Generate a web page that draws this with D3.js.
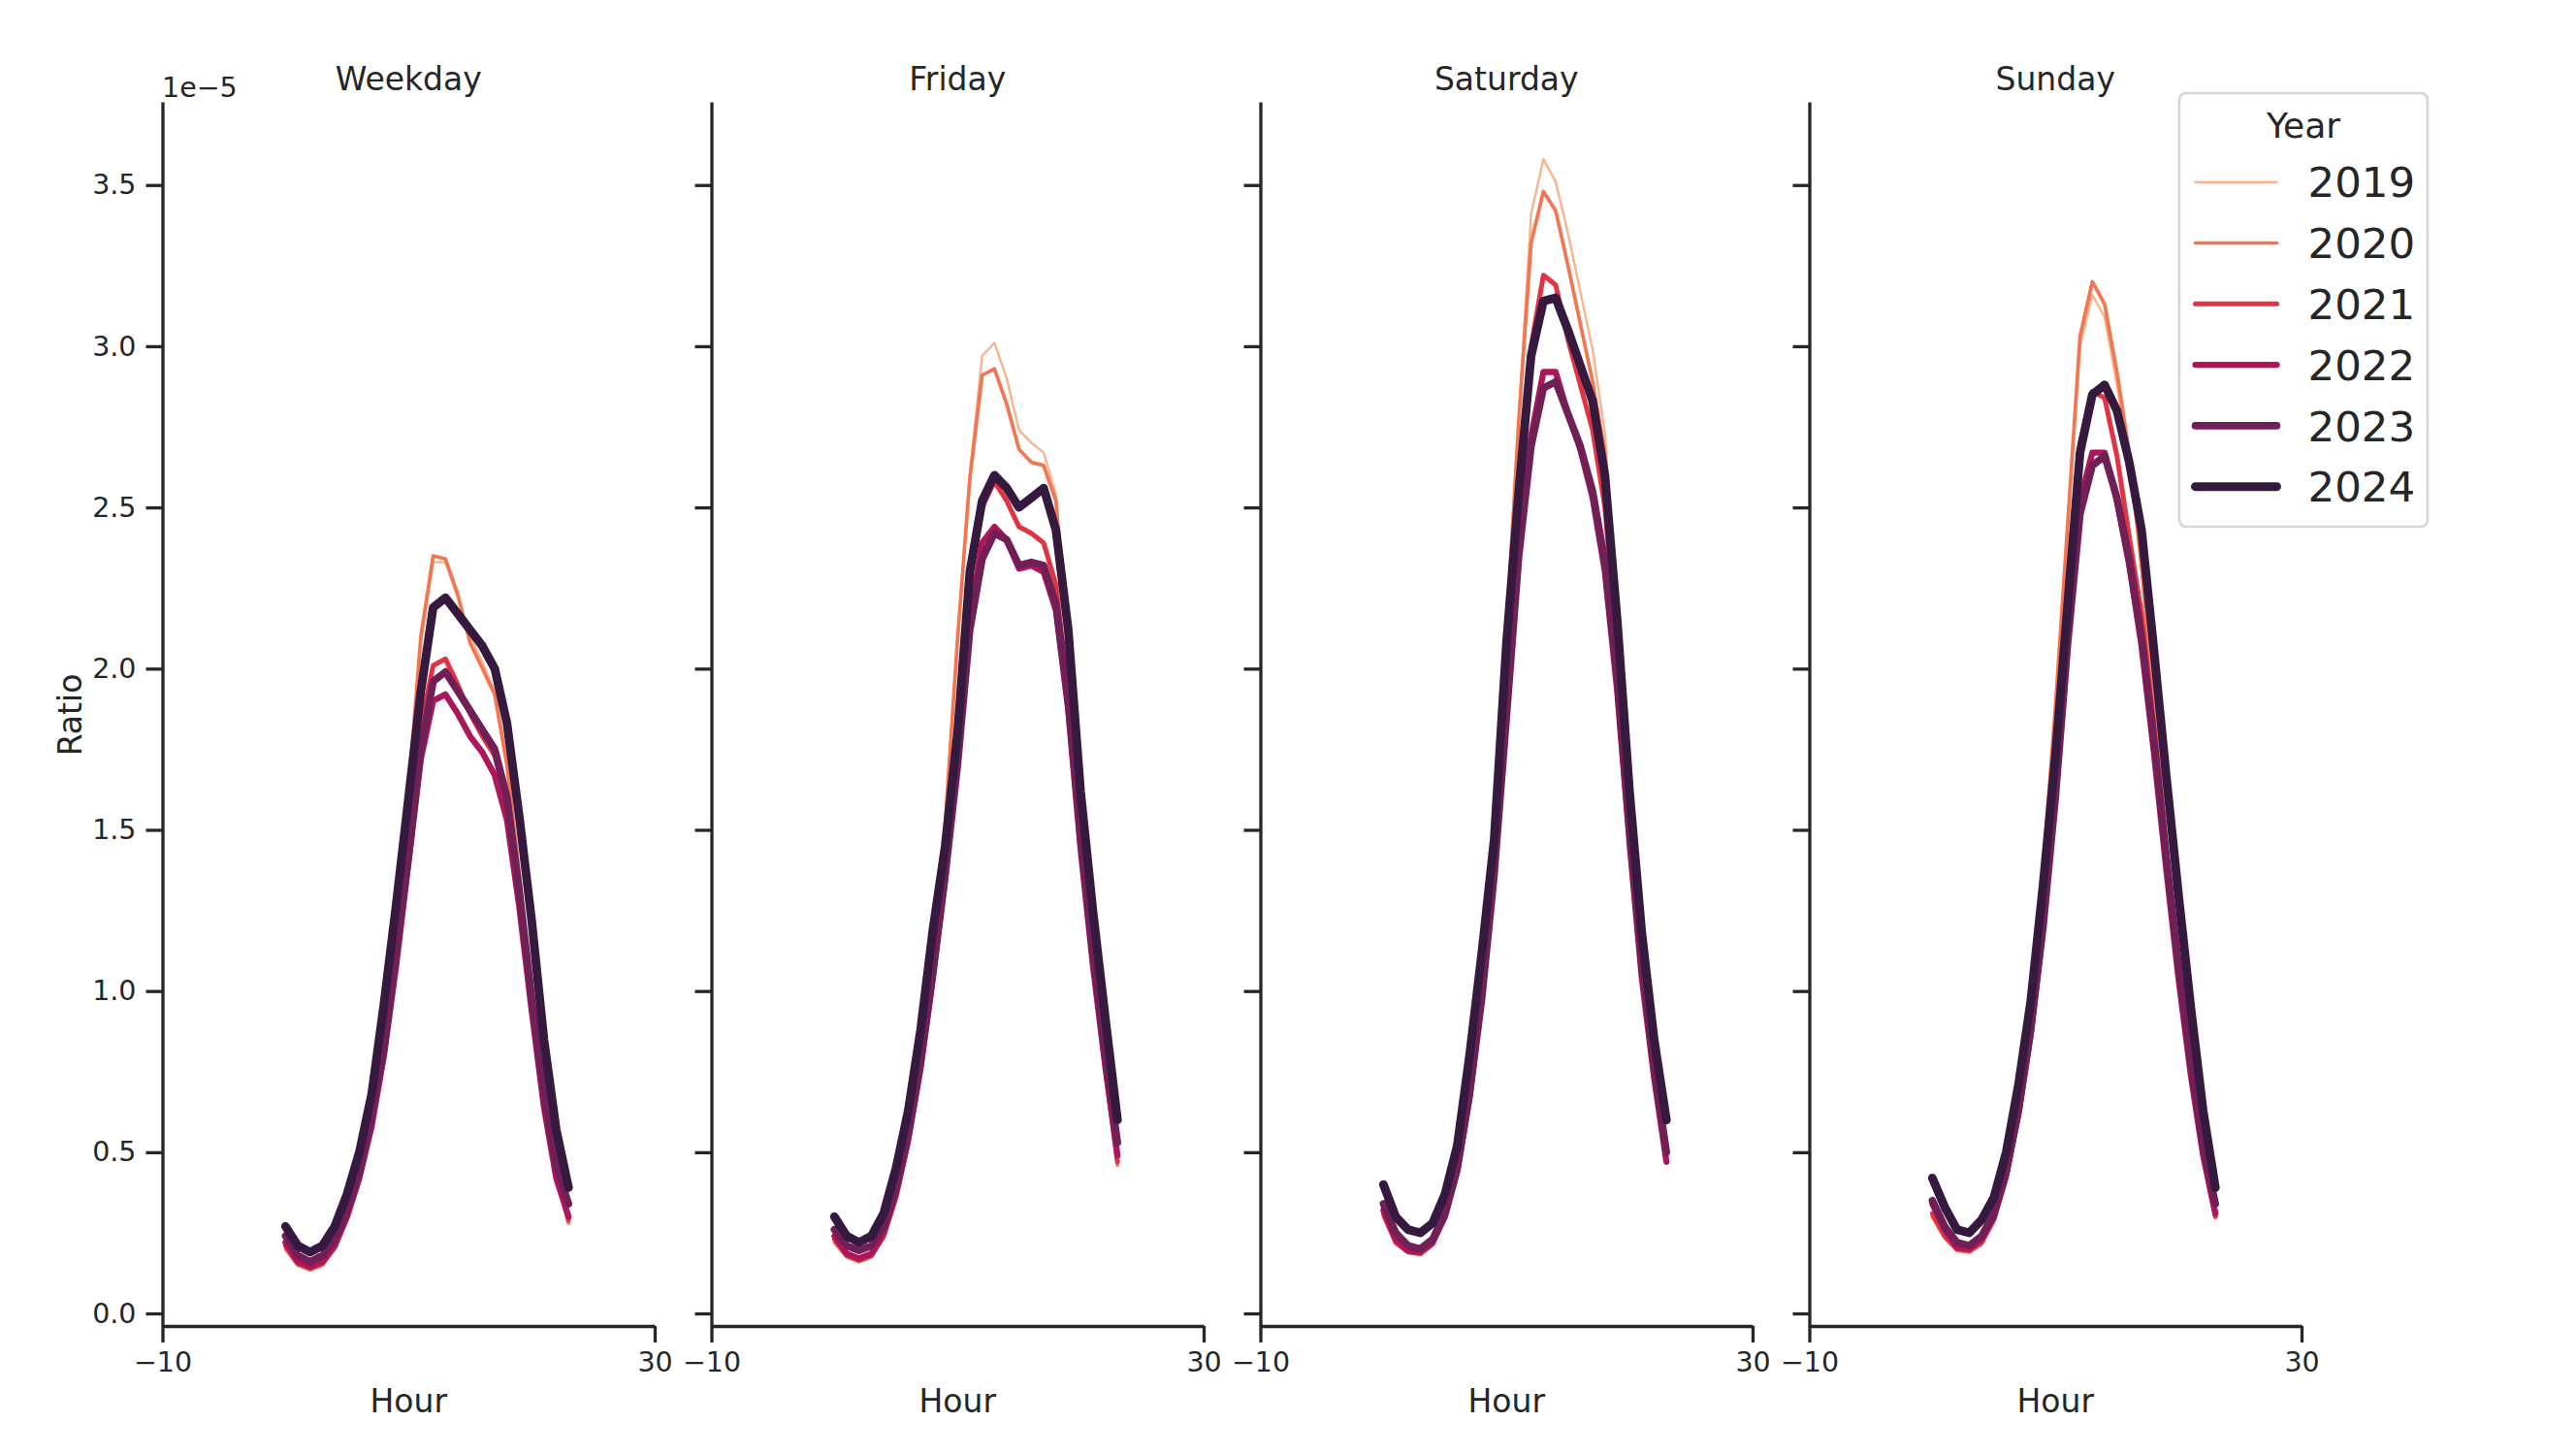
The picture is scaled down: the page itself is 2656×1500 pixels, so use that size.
<!DOCTYPE html>
<meta charset="utf-8">
<style>
body { margin: 0; background: #fff; }
text { font-family: "DejaVu Sans", sans-serif; fill: #262626; }
.axis path, .axis line { stroke: #262626; stroke-width: 3.3; }
.axis text { font-size: 28.5px; fill: #262626; font-family: "DejaVu Sans", sans-serif; }
.series { fill: none; stroke-linejoin: round; stroke-linecap: round; }
</style>
<body>
<script src="https://cdn.jsdelivr.net/npm/d3@7"></script>
<script>

var width = 2656,
    height = 1500;

// categories
var panels = ["Weekday", "Friday", "Saturday", "Sunday"];
var years = ["2019", "2020", "2021", "2022", "2023", "2024"];
var hours = d3.range(0, 24);

// tick labels
var xTicks = [-10, 30];
var yTicks = [0, 0.5, 1.0, 1.5, 2.0, 2.5, 3.0, 3.5];

// values are Ratio in units of 1e-5, one array per year, hours 0..23
var weekday = {
  "2019": [0.20,0.15,0.135,0.15,0.20,0.29,0.41,0.58,0.84,1.18,1.62,2.08,2.33,2.33,2.22,2.10,2.02,1.93,1.72,1.38,1.00,0.67,0.44,0.29],
  "2020": [0.20,0.15,0.135,0.15,0.20,0.29,0.41,0.58,0.84,1.18,1.62,2.10,2.35,2.34,2.23,2.08,2.00,1.92,1.70,1.36,0.98,0.66,0.43,0.28],
  "2021": [0.21,0.155,0.14,0.155,0.21,0.30,0.42,0.58,0.82,1.12,1.48,1.82,2.01,2.03,1.95,1.86,1.79,1.73,1.58,1.28,0.95,0.65,0.43,0.29],
  "2022": [0.22,0.16,0.145,0.16,0.21,0.30,0.42,0.58,0.80,1.08,1.40,1.72,1.90,1.92,1.86,1.79,1.74,1.67,1.53,1.26,0.94,0.64,0.42,0.30],
  "2023": [0.24,0.18,0.16,0.18,0.23,0.32,0.44,0.61,0.82,1.12,1.42,1.75,1.96,1.99,1.93,1.87,1.81,1.75,1.60,1.31,0.98,0.68,0.46,0.34],
  "2024": [0.27,0.21,0.19,0.21,0.27,0.37,0.50,0.68,0.96,1.27,1.60,1.93,2.19,2.22,2.17,2.12,2.07,2.00,1.83,1.54,1.22,0.85,0.57,0.39]
};

var friday = {
  "2019": [0.22,0.175,0.16,0.175,0.235,0.36,0.54,0.78,1.12,1.52,2.09,2.60,2.97,3.01,2.90,2.74,2.70,2.67,2.54,2.06,1.50,1.08,0.75,0.46],
  "2020": [0.22,0.175,0.16,0.175,0.235,0.36,0.54,0.78,1.12,1.52,2.09,2.59,2.91,2.93,2.82,2.68,2.64,2.63,2.52,2.05,1.50,1.08,0.75,0.46],
  "2021": [0.23,0.18,0.165,0.18,0.24,0.36,0.53,0.76,1.06,1.40,1.80,2.28,2.50,2.58,2.52,2.44,2.42,2.39,2.26,1.92,1.46,1.08,0.76,0.47],
  "2022": [0.24,0.185,0.17,0.185,0.25,0.37,0.54,0.76,1.04,1.35,1.72,2.16,2.39,2.44,2.40,2.31,2.32,2.30,2.18,1.87,1.44,1.08,0.77,0.49],
  "2023": [0.26,0.21,0.195,0.21,0.27,0.39,0.56,0.78,1.06,1.36,1.70,2.12,2.34,2.42,2.40,2.32,2.33,2.32,2.20,1.90,1.48,1.12,0.80,0.53],
  "2024": [0.30,0.24,0.22,0.24,0.31,0.45,0.63,0.88,1.19,1.45,1.80,2.30,2.52,2.60,2.56,2.50,2.53,2.56,2.43,2.12,1.62,1.25,0.92,0.60]
};

var saturday = {
  "2019": [0.30,0.22,0.19,0.185,0.215,0.30,0.46,0.72,1.08,1.52,2.12,2.78,3.41,3.58,3.51,3.35,3.17,2.99,2.73,2.18,1.56,1.08,0.74,0.47],
  "2020": [0.30,0.22,0.19,0.185,0.215,0.30,0.46,0.72,1.08,1.52,2.12,2.77,3.32,3.48,3.42,3.25,3.07,2.89,2.67,2.15,1.55,1.07,0.74,0.47],
  "2021": [0.31,0.22,0.19,0.185,0.215,0.30,0.45,0.70,1.04,1.47,2.05,2.60,3.00,3.22,3.19,3.02,2.88,2.74,2.50,2.05,1.52,1.06,0.74,0.47],
  "2022": [0.32,0.23,0.195,0.19,0.22,0.30,0.44,0.67,0.98,1.37,1.88,2.40,2.72,2.92,2.92,2.79,2.68,2.53,2.30,1.93,1.46,1.04,0.73,0.47],
  "2023": [0.34,0.25,0.21,0.20,0.23,0.31,0.45,0.68,0.98,1.36,1.85,2.35,2.69,2.87,2.89,2.79,2.69,2.55,2.33,1.97,1.50,1.08,0.76,0.50],
  "2024": [0.40,0.30,0.26,0.25,0.28,0.37,0.52,0.80,1.12,1.47,2.08,2.55,2.97,3.14,3.15,3.05,2.94,2.83,2.60,2.15,1.62,1.18,0.85,0.60]
};

var sunday = {
  "2019": [0.30,0.235,0.195,0.19,0.215,0.29,0.42,0.62,0.92,1.38,1.88,2.42,3.00,3.16,3.09,2.88,2.64,2.30,1.89,1.46,1.07,0.75,0.49,0.30],
  "2020": [0.30,0.235,0.195,0.19,0.215,0.29,0.42,0.62,0.92,1.38,1.88,2.45,3.03,3.20,3.13,2.92,2.67,2.32,1.90,1.47,1.08,0.76,0.49,0.30],
  "2021": [0.31,0.24,0.20,0.195,0.22,0.29,0.42,0.62,0.90,1.26,1.72,2.28,2.70,2.86,2.84,2.66,2.41,2.17,1.82,1.43,1.06,0.75,0.49,0.30],
  "2022": [0.34,0.26,0.205,0.20,0.23,0.30,0.43,0.62,0.87,1.20,1.61,2.10,2.52,2.67,2.67,2.52,2.32,2.07,1.74,1.38,1.04,0.74,0.49,0.31],
  "2023": [0.35,0.27,0.22,0.21,0.24,0.31,0.44,0.63,0.88,1.20,1.60,2.08,2.48,2.63,2.66,2.53,2.34,2.10,1.78,1.42,1.08,0.78,0.52,0.34],
  "2024": [0.42,0.33,0.26,0.25,0.29,0.36,0.50,0.71,0.97,1.33,1.73,2.20,2.67,2.85,2.88,2.80,2.64,2.43,2.06,1.67,1.30,0.95,0.63,0.39]
};

var panelData = [weekday, friday, saturday, sunday];

// rocket palette, light to dark, and growing line widths
var colors = ["#f6b48f", "#f37651", "#e13342", "#ad1759", "#701f57", "#35193e"];
var widths = [2.4, 3.7, 5.0, 6.3, 7.6, 8.9];

var color = d3.scaleOrdinal().domain(years).range(colors);
var lineWidth = d3.scaleOrdinal().domain(years).range(widths);

var svg = d3.select("body").append("svg")
    .attr("width", width)
    .attr("height", height);

// shared y scale, each panel gets its own x scale
var panelWidth = 507.5,
    panelStep = 566,
    firstLeft = 167.5;

var y = d3.scaleLinear()
    .domain([-0.039, 3.758])
    .range([1367, 105]);

panels.forEach(function(name, i) {
  var left = firstLeft + i * panelStep;
  var x = d3.scaleLinear()
      .domain([-10, 30])
      .range([left, left + panelWidth]);

  var g = svg.append("g");

  // axes
  g.append("g")
      .attr("class", "axis")
      .attr("transform", "translate(0," + y.range()[0] + ")")
      .call(d3.axisBottom(x)
        .tickValues(xTicks)
        .tickSize(17)
        .tickSizeOuter(0)
        .tickPadding(10)
        .tickFormat(d3.format("d")));

  g.append("g")
      .attr("class", "axis")
      .attr("transform", "translate(" + left + ",0)")
      .call(d3.axisLeft(y)
        .tickValues(yTicks)
        .tickSize(17)
        .tickSizeOuter(0)
        .tickPadding(10)
        .tickFormat(i === 0 ? d3.format(".1f") : ""));

  // lines, 2019 first so 2024 ends on top
  var line = d3.line()
      .x(function(d, j) { return x(hours[j]); })
      .y(function(d) { return y(d); });

  g.append("g")
    .selectAll("path")
    .data(years)
    .enter()
    .append("path")
    .attr("class", "series")
    .attr("stroke", function(d) { return color(d); })
    .attr("stroke-width", function(d) { return lineWidth(d); })
    .attr("d", function(d) { return line(panelData[i][d]); });

  // facet title and x label
  g.append("text")
      .attr("x", left + panelWidth / 2)
      .attr("y", 93)
      .attr("text-anchor", "middle")
      .style("font-size", "33px")
      .text(name);

  g.append("text")
      .attr("x", left + panelWidth / 2)
      .attr("y", 1456)
      .attr("text-anchor", "middle")
      .style("font-size", "33px")
      .text("Hour");
});

// y label and offset text
svg.append("text")
    .attr("transform", "translate(84,737) rotate(-90)")
    .attr("text-anchor", "middle")
    .style("font-size", "33px")
    .text("Ratio");

svg.append("text")
    .attr("x", 167)
    .attr("y", 100)
    .style("font-size", "28.5px")
    .text("1e\u22125");

// legend
var legend = svg.append("g");

legend.append("rect")
    .attr("x", 2247)
    .attr("y", 96)
    .attr("width", 256)
    .attr("height", 447)
    .attr("rx", 7)
    .attr("fill", "#fff")
    .attr("stroke", "#d6d6d6")
    .attr("stroke-width", 2.7);

legend.append("text")
    .attr("x", 2375)
    .attr("y", 142)
    .attr("text-anchor", "middle")
    .style("font-size", "36px")
    .text("Year");

var item = legend.selectAll(".item")
    .data(years)
    .enter()
    .append("g")
    .attr("class", "item")
    .attr("transform", function(d, i) { return "translate(0," + (187.7 + 62.8 * i) + ")"; });

item.append("line")
    .attr("x1", 2263.5)
    .attr("x2", 2347.5)
    .attr("stroke", function(d) { return color(d); })
    .attr("stroke-width", function(d) { return lineWidth(d); })
    .attr("stroke-linecap", "round");

item.append("text")
    .attr("x", 2379.5)
    .attr("y", 15.6)
    .style("font-size", "43.5px")
    .text(function(d) { return d; });

</script>
